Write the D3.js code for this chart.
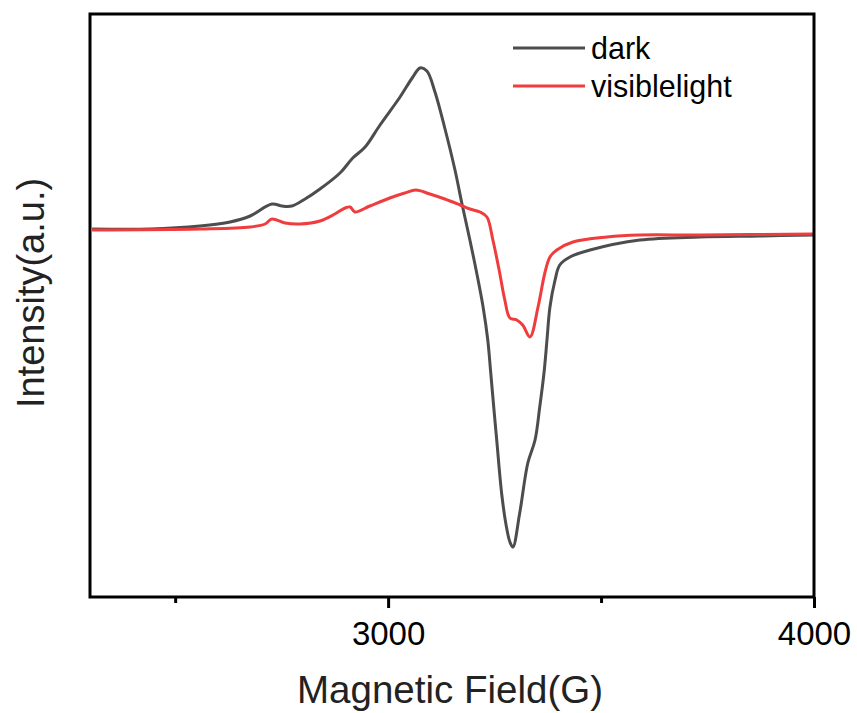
<!DOCTYPE html>
<html>
<head>
<meta charset="utf-8">
<script src="https://cdn.jsdelivr.net/npm/d3@7"></script>
<style>
  body { margin: 0; background: #fff; }
  text { font-family: Arial, "Liberation Sans", sans-serif; }
</style>
</head>
<body>
<div id="chart"></div>
<script>
!function () {
  'use strict';

  // field (G) and intensity (a.u.)
  var darkField = [2305, 2441, 2558, 2629, 2676, 2727, 2751, 2774, 2805, 2840, 2887, 2917, 2946, 2981,
    3028, 3058, 3075, 3091, 3110, 3133, 3157, 3173, 3192, 3208, 3223, 3234, 3241, 3248, 3255, 3267,
    3277, 3286, 3293, 3309, 3328, 3345, 3356, 3366, 3373, 3380, 3392, 3403, 3427, 3474, 3591, 3732,
    3873, 4000];
  var darkValue = [1, 1, 4, 8, 14, 26, 24, 24, 31, 41, 57, 72, 83, 105,
    133, 153, 162, 159, 138, 102, 60, 27, -10, -43, -77, -110, -143, -177, -210, -265,
    -295, -312, -317, -283, -233, -210, -177, -143, -110, -77, -50, -35, -27, -20, -10, -7,
    -6, -5];

  var lightField = [2305, 2558, 2676, 2711, 2727, 2758, 2793, 2840, 2875, 2899, 2911, 2922, 2957, 3004,
    3039, 3065, 3098, 3133, 3169, 3192, 3216, 3232, 3246, 3262, 3274, 3286, 3302, 3316, 3333, 3352,
    3368, 3380, 3396, 3434, 3514, 3591, 3732, 4000];
  var lightValue = [0, 1, 3, 6, 11, 7, 6, 9, 16, 22, 23, 18, 24, 32,
    37, 40, 36, 31, 25, 21, 18, 13, -10, -43, -70, -88, -90, -95, -107, -77,
    -43, -27, -20, -12, -7, -5, -5, -4];

  var seriesNames = ['dark', 'visiblelight'];
  var seriesColors = ['#4d4d4d', '#f03c3c'];
  var xTicks = [3000, 4000];
  var xMinorTicks = [2500, 3500];

  var width = 857, height = 713;
  var m = { left: 90, right: 43, top: 14, bottom: 116 };

  var svg = d3.select('#chart').append('svg')
    .attr('width', width)
    .attr('height', height);

  var x = d3.scaleLinear().domain([2300, 4000]).range([m.left, width - m.right]);
  var y = d3.scaleLinear().domain([-367, 216]).range([height - m.bottom, m.top]);

  var series = [
    { name: seriesNames[0], color: seriesColors[0], pts: d3.zip(darkField, darkValue) },
    { name: seriesNames[1], color: seriesColors[1], pts: d3.zip(lightField, lightValue) }
  ];

  var line = d3.line()
    .x(function (d) { return x(d[0]); })
    .y(function (d) { return y(d[1]); })
    .curve(d3.curveCatmullRom.alpha(0.5));

  svg.append('defs').append('clipPath').attr('id', 'clip')
    .append('rect')
    .attr('x', m.left).attr('y', m.top)
    .attr('width', x.range()[1] - m.left)
    .attr('height', y.range()[0] - m.top);

  svg.append('g').attr('clip-path', 'url(#clip)')
    .selectAll('path.series')
    .data(series)
    .enter().append('path')
    .attr('class', 'series')
    .attr('d', function (d) { return line(d.pts); })
    .style('fill', 'none')
    .style('stroke', function (d) { return d.color; })
    .style('stroke-width', 3)
    .style('stroke-linejoin', 'round');

  // x axis: major + minor ticks
  var xAxis = svg.append('g')
    .attr('transform', 'translate(0,' + y.range()[0] + ')')
    .call(d3.axisBottom(x).tickValues(xTicks).tickSize(11).tickPadding(14).tickFormat(d3.format('d')));
  xAxis.select('.domain').remove();
  xAxis.selectAll('line').style('stroke', '#000').style('stroke-width', 3);
  xAxis.selectAll('text').style('font-size', '33px').style('fill', '#000');

  svg.append('g')
    .attr('transform', 'translate(0,' + y.range()[0] + ')')
    .call(d3.axisBottom(x).tickValues(xMinorTicks).tickSize(6).tickFormat(''))
    .call(function (g) { g.select('.domain').remove(); })
    .selectAll('line').style('stroke', '#000').style('stroke-width', 3);

  // frame
  svg.append('rect')
    .attr('x', m.left).attr('y', m.top)
    .attr('width', x.range()[1] - m.left)
    .attr('height', y.range()[0] - m.top)
    .style('fill', 'none')
    .style('stroke', '#000')
    .style('stroke-width', 3);

  // axis titles
  svg.append('text')
    .attr('x', 450)
    .attr('y', 703)
    .attr('text-anchor', 'middle')
    .style('font-size', '38.5px')
    .style('fill', '#222')
    .text('Magnetic Field(G)');

  svg.append('text')
    .attr('transform', 'translate(44,' + 293 + ') rotate(-90)')
    .attr('text-anchor', 'middle')
    .style('font-size', '38px')
    .style('fill', '#222')
    .text('Intensity(a.u.)');

  // legend
  var legend = svg.append('g')
    .selectAll('g')
    .data(series)
    .enter().append('g')
    .attr('transform', function (d, i) { return 'translate(513,' + (48 + i * 38) + ')'; });

  legend.append('line')
    .attr('x1', 0).attr('x2', 72)
    .style('stroke', function (d) { return d.color; })
    .style('stroke-width', 3);

  legend.append('text')
    .attr('x', 78).attr('dy', '0.35em')
    .style('font-size', '30.5px')
    .style('fill', '#000')
    .text(function (d) { return d.name; });

}();
</script>
</body>
</html>
